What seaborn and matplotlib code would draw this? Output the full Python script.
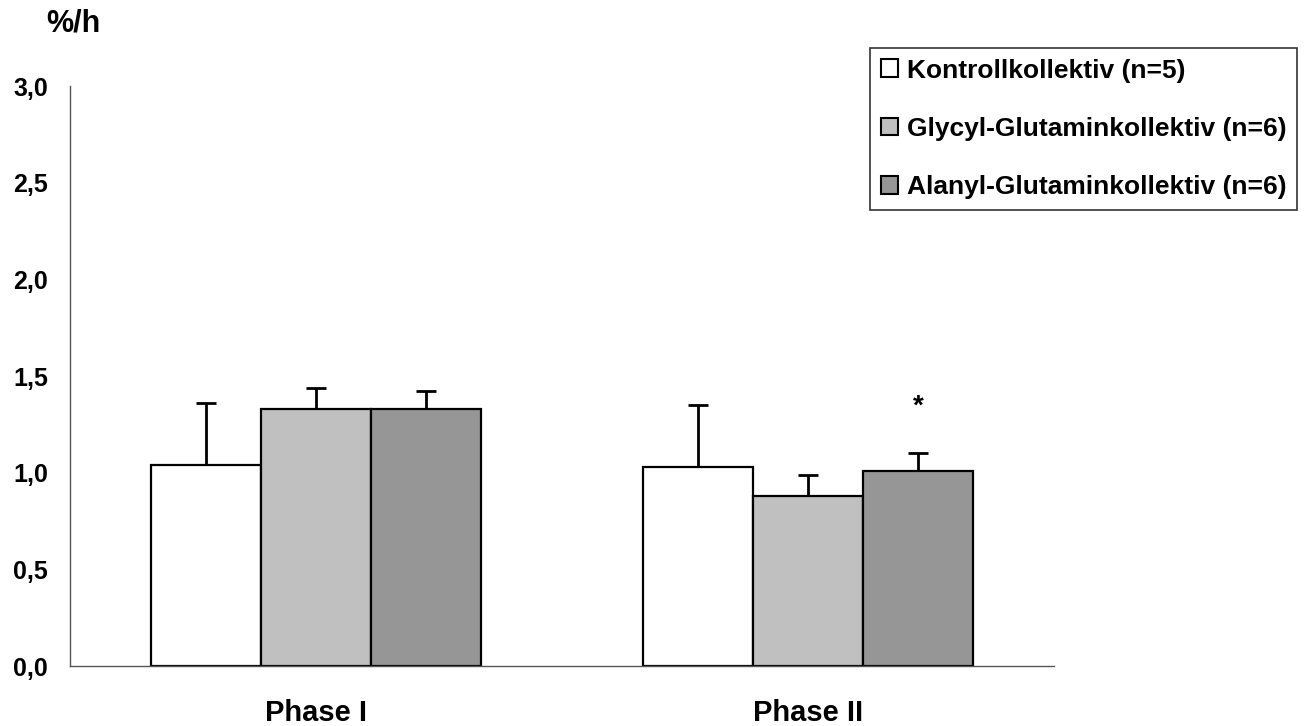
import matplotlib
matplotlib.use("Agg")
import matplotlib.pyplot as plt
import seaborn as sns
import pandas as pd
from matplotlib.patches import Patch

phases = ["Phase I", "Phase II"]
groups = ["Kontrollkollektiv (n=5)", "Glycyl-Glutaminkollektiv (n=6)", "Alanyl-Glutaminkollektiv (n=6)"]
means = {
    groups[0]: [1.04, 1.03],
    groups[1]: [1.33, 0.88],
    groups[2]: [1.33, 1.01],
}
sds = {
    groups[0]: [0.32, 0.32],
    groups[1]: [0.11, 0.11],
    groups[2]: [0.09, 0.09],
}
colors = ["#FFFFFF", "#C0C0C0", "#969696"]
yticks = [0.0, 0.5, 1.0, 1.5, 2.0, 2.5, 3.0]
ytick_labels = ["0,0", "0,5", "1,0", "1,5", "2,0", "2,5", "3,0"]

rows = []
for g in groups:
    for p, v in zip(phases, means[g]):
        rows.append({"phase": p, "group": g, "value": v})
df = pd.DataFrame(rows)

sns.set_style("white")
plt.rcParams["font.family"] = ["Liberation Sans", "DejaVu Sans"]
plt.rcParams["font.weight"] = "bold"
plt.rcParams["text.color"] = "black"
plt.rcParams["xtick.labelcolor"] = "black"
plt.rcParams["ytick.labelcolor"] = "black"

fig = plt.figure(figsize=(13.16, 7.26), dpi=100)
ax = fig.add_axes([70/1316, 60/726, (1054-70)/1316, (666-86)/726])

sns.barplot(data=df, x="phase", y="value", hue="group", order=phases, hue_order=groups,
            palette=colors, edgecolor="black", linewidth=1.6, width=0.67,
            errorbar=None, legend=False, ax=ax, saturation=1)

for g, cont in zip(groups, ax.containers):
    for bar, sd in zip(cont, sds[g]):
        cx = bar.get_x() + bar.get_width() / 2
        h = bar.get_height()
        _, caps, _ = ax.errorbar([cx], [h], yerr=[[0], [sd]], fmt="none", ecolor="black",
                                 elinewidth=2, capsize=7, capthick=2, zorder=1)
        for c in caps:
            if abs(c.get_ydata()[0] - h) < 1e-9:
                c.set_visible(False)

# asterisk over Alanyl Phase II
last = ax.containers[2][1]
ax.text(last.get_x() + last.get_width() / 2, 1.34, "*", ha="center", va="center",
        fontsize=20, fontweight="bold", color="black")

ax.set_ylim(0, 3.0)
ax.set_xlim(-0.5, 1.5)
ax.set_yticks(yticks)
ax.set_yticklabels(ytick_labels, fontsize=18, fontweight="bold")
ax.set_xticks([-0.5, 0.5, 1.5])
ax.set_xticklabels(["", "", ""])
ax.set_xticks([0, 1], minor=True)
ax.set_xticklabels(phases, minor=True, fontsize=21, fontweight="bold")
ax.tick_params(axis="x", which="minor", length=0, pad=24, labelcolor="black")
ax.tick_params(axis="x", which="major", length=6, width=1, color="#555555", direction="out")
ax.tick_params(axis="y", length=6, width=1, color="#555555", direction="out", pad=10,
               labelcolor="black")
ax.set_xlabel("")
ax.set_ylabel("")
for s in ["top", "right"]:
    ax.spines[s].set_visible(False)
for s in ["left", "bottom"]:
    ax.spines[s].set_color("#555555")
    ax.spines[s].set_linewidth(1)

fig.text(46/1316, 1 - 24/726, "%/h", fontsize=22, fontweight="bold", va="center", ha="left",
         color="black")

handles = [Patch(facecolor=c, edgecolor="black", linewidth=1.5) for c in colors]
leg = fig.legend(handles, groups, loc="upper left", bbox_to_anchor=(870/1316, 1 - 48/726),
                 frameon=True, fancybox=False, edgecolor="black",
                 prop={"weight": "bold", "size": 19}, handlelength=0.65, handleheight=0.65,
                 handletextpad=0.35, labelspacing=1.3, borderpad=0.4, borderaxespad=0)
leg.get_frame().set_linewidth(1.2)
for t in leg.get_texts():
    t.set_color("black")

fig.savefig("out.png", dpi=100, facecolor="white")
